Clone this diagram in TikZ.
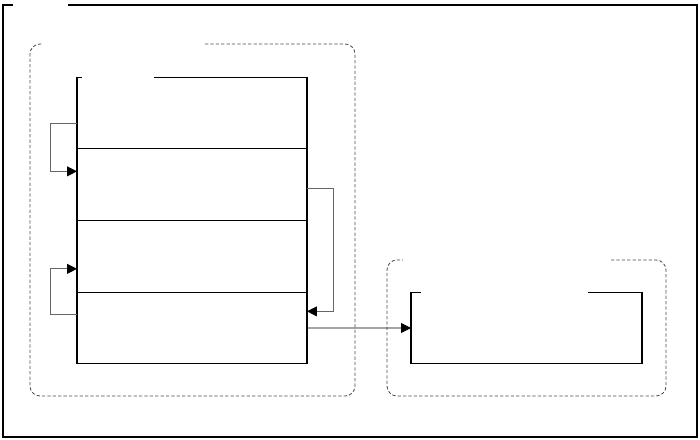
\documentclass[tikz,border=0pt]{standalone}
\usepackage{tikz}
\usetikzlibrary{arrows.meta, positioning, calc}

\begin{document}
\begin{tikzpicture}[x=0.03cm, y=-0.03cm,
    frame/.style={line width=0.9pt},
    group/.style={dashed, dash pattern=on 2.8pt off 1.8pt, black!70, line width=0.7pt, rounded corners=0.3cm},
    cell/.style={draw, line width=0.9pt, minimum width=6.9cm, minimum height=2.15cm, inner sep=0pt, outer sep=0pt},
    opencell/.style={cell, draw=none},
    loop/.style={black!60, line width=0.7pt, -{Triangle[length=8.5pt, width=8.5pt, color=black]}},
    link/.style={line width=0.8pt, -{Triangle[length=8.5pt, width=8.5pt]}}]
  \useasboundingbox (0,0) rectangle (700,439);
  % outer frame, gap left for the title
  \draw[frame] (68,5) -- (697,5) -- (697,437) -- (3,437) -- (3,5) -- (13,5);
  % dashed groups
  \draw[group] (205,44) -- (355,44) -- (355,396) -- (30,396) -- (30,44) -- (43,44);
  \draw[group] (611,260) -- (666,260) -- (666,396) -- (387,396) -- (387,260) -- (403,260);
  % stack of cells
  \node[opencell] (cellA) at (192,113) {};
  \node[cell, below=0pt of cellA] (cellB) {};
  \node[cell, below=0pt of cellB] (cellC) {};
  \node[cell, below=0pt of cellC] (cellD) {};
  \draw[frame] ([xshift=0.15cm]cellA.north west) -- (cellA.north west) -- (cellA.south west);
  \draw[frame] ([xshift=2.31cm]cellA.north west) -- (cellA.north east) -- (cellA.south east);
  % target box
  \node[opencell, minimum width=6.93cm, minimum height=2.13cm] (store) at (526.5,328) {};
  \draw[frame] ([xshift=0.3cm]store.north west) -- (store.north west) -- (store.south west)
      -- (store.south east) -- (store.north east) -- ([xshift=-1.62cm]store.north east);
  % feedback loops
  \draw[loop] ([yshift=-0.3cm]cellA.west) -- ++(-27,0) |- ([yshift=0.4cm]cellB.west);
  \draw[loop] ([yshift=0.4cm]cellD.west) -- ++(-27,0) |- ([yshift=-0.375cm]cellC.west);
  \draw[loop] ([yshift=-0.1cm]cellB.east) -- ++(26,0) |- ([yshift=0.5cm]cellD.east);
  % output
  \draw[link] (cellD.east) -- (store.west);
\end{tikzpicture}
\end{document}
